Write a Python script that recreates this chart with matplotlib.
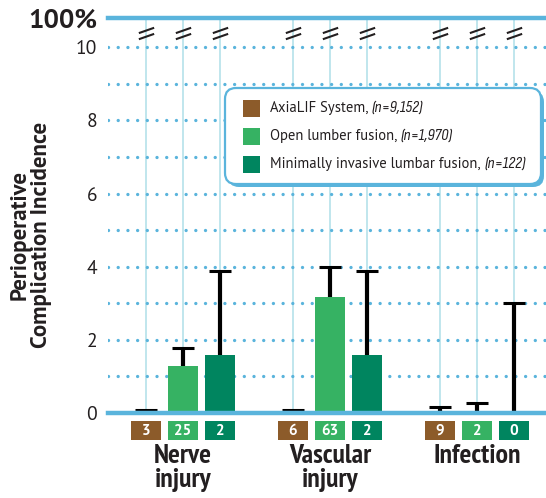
import numpy as np
import matplotlib
matplotlib.use('Agg')
import matplotlib.pyplot as plt
from matplotlib.patches import FancyBboxPatch, Rectangle
from matplotlib.path import Path

# data
categories = ['Nerve\ninjury', 'Vascular\ninjury', 'Infection']
series = ['AxiaLIF System,', 'Open lumber fusion,', 'Minimally invasive lumbar fusion,']
series_n = ['(n=9,152)', '(n=1,970)', '(n=122)']
axialif = [0.03, 0.03, 0.04]
axialif_top = [0.08, 0.08, 0.16]
open_fusion = [1.28, 3.17, 0.04]
open_top = [1.78, 4.0, 0.27]
mis = [1.58, 1.58, 0.0]
mis_top = [3.88, 3.88, 3.0]
axialif_n = [3, 6, 9]
open_n = [25, 63, 2]
mis_n = [2, 2, 0]

colors = ['#8c5b2a', '#36b263', '#00855f']
blue = '#5ab4dc'
dark = '#231f20'
body = ['PT Sans', 'DejaVu Sans']
narrow = ['PT Sans Narrow', 'DejaVu Sans']

W, H = 546, 498
fig = plt.figure(figsize=(W / 100, H / 100), dpi=100, facecolor='white')


def px(x, y):
    # figure pixel (from top left) -> inches for dpi_scale_trans
    return x / 100, (H - y) / 100


ax = fig.add_axes([108 / W, 85 / H, 438 / W, 395 / H])
ax.set_xlim(-0.51, 2.47)
ax.set_ylim(0, 10.8)
for s in ax.spines.values():
    s.set_visible(False)
ax.set_xticks([])

x = np.arange(len(categories))
off = 0.2517
w = 0.204
values = [axialif, open_fusion, mis]
tops = [axialif_top, open_top, mis_top]
counts = [axialif_n, open_n, mis_n]

# vertical guide lines
for i in range(3):
    ax.vlines(x + (i - 1) * off, 0, 10.8, color='#b5e1ea', lw=1.2, zorder=0)

# dotted grid
for yv in range(1, 11):
    ax.axhline(yv, color=blue, lw=2.4, ls=(0, (0.01, 2.9)),
               dash_capstyle='round', zorder=1)
ax.axhline(0, color=blue, lw=3.2, zorder=4, clip_on=False)
ax.axhline(10.8, color=blue, lw=3.2, zorder=4, clip_on=False)

for i in range(3):
    xs = x + (i - 1) * off
    ax.bar(xs, values[i], width=w, color=colors[i], zorder=2)
    ax.vlines(xs, values[i], tops[i], color='black', lw=3, zorder=3)
    ax.hlines(tops[i], xs - 0.075, xs + 0.075, color='black', lw=2.2, zorder=3)
    # count boxes under the axis
    ax.bar(xs, -0.52, bottom=-0.22, width=w, color=colors[i], clip_on=False)
    for xx, c in zip(xs, counts[i]):
        ax.text(xx, -0.49, str(c), ha='center', va='center', color='white',
                fontsize=11, fontweight='bold', family=body, clip_on=False)

# break marks
brk = Path([(-1, -0.75), (1, -0.05), (-1, 0.05), (1, 0.75)],
           [Path.MOVETO, Path.LINETO, Path.MOVETO, Path.LINETO])
for i in range(3):
    ax.plot(x + (i - 1) * off, [10.38] * 3, ls='none', marker=brk, ms=11,
            mfc='none', mec=dark, mew=1.5, zorder=5)

for xx, lab in zip(x, categories):
    ax.text(xx, -0.86, lab, ha='center', va='top', fontsize=20,
            fontweight='bold', color=dark, linespacing=0.98,
            family=narrow, clip_on=False)

ax.set_yticks([0, 2, 4, 6, 8, 10])
ax.set_yticklabels(['0', '2', '4', '6', '8', '10'], fontsize=14,
                   color=dark, family=body)
ax.tick_params(axis='y', length=0, pad=8)

fig.text(*px(97, 21), '100%', ha='right', va='center', fontsize=19.5,
         fontweight='bold', color=dark, family=body,
         transform=fig.dpi_scale_trans)
fig.text(*px(31, 235), 'Perioperative\nComplication Incidence', rotation=90,
         ha='center', va='center', fontsize=16.5, fontweight='bold', color=dark,
         family=body, linespacing=1.0, transform=fig.dpi_scale_trans)

# legend box, drawn by hand so the (n=...) part can be italic
shadow = FancyBboxPatch(px(228, 187), 316 / 100, 96 / 100,
                        boxstyle='round,pad=0,rounding_size=0.11',
                        transform=fig.dpi_scale_trans, facecolor=blue,
                        edgecolor='none', zorder=20)
frame = FancyBboxPatch(px(225, 184), 316 / 100, 96 / 100,
                       boxstyle='round,pad=0,rounding_size=0.11',
                       transform=fig.dpi_scale_trans, facecolor='white',
                       edgecolor=blue, lw=1.6, zorder=21)
fig.patches.extend([shadow, frame])
renderer = fig.canvas.get_renderer()
for k, (lab, n) in enumerate(zip(series, series_n)):
    yc = 108 + 28 * k
    fig.patches.append(Rectangle(px(243, yc + 8.5), 0.17, 0.17,
                                 transform=fig.dpi_scale_trans,
                                 facecolor=colors[k], edgecolor='none',
                                 zorder=22))
    t = fig.text(*px(270, yc), lab, ha='left', va='center', fontsize=10.5,
                 color=dark, family=body, transform=fig.dpi_scale_trans,
                 zorder=22)
    bb = t.get_window_extent(renderer)
    fig.text(bb.x1 / 100 + 0.035, (H - yc) / 100, n, ha='left', va='center',
             fontsize=12, style='italic', color=dark,
             family=['Sofia Sans Condensed', 'PT Sans', 'DejaVu Sans'],
             transform=fig.dpi_scale_trans, zorder=22)

fig.savefig('out.png', dpi=100, facecolor='white')
